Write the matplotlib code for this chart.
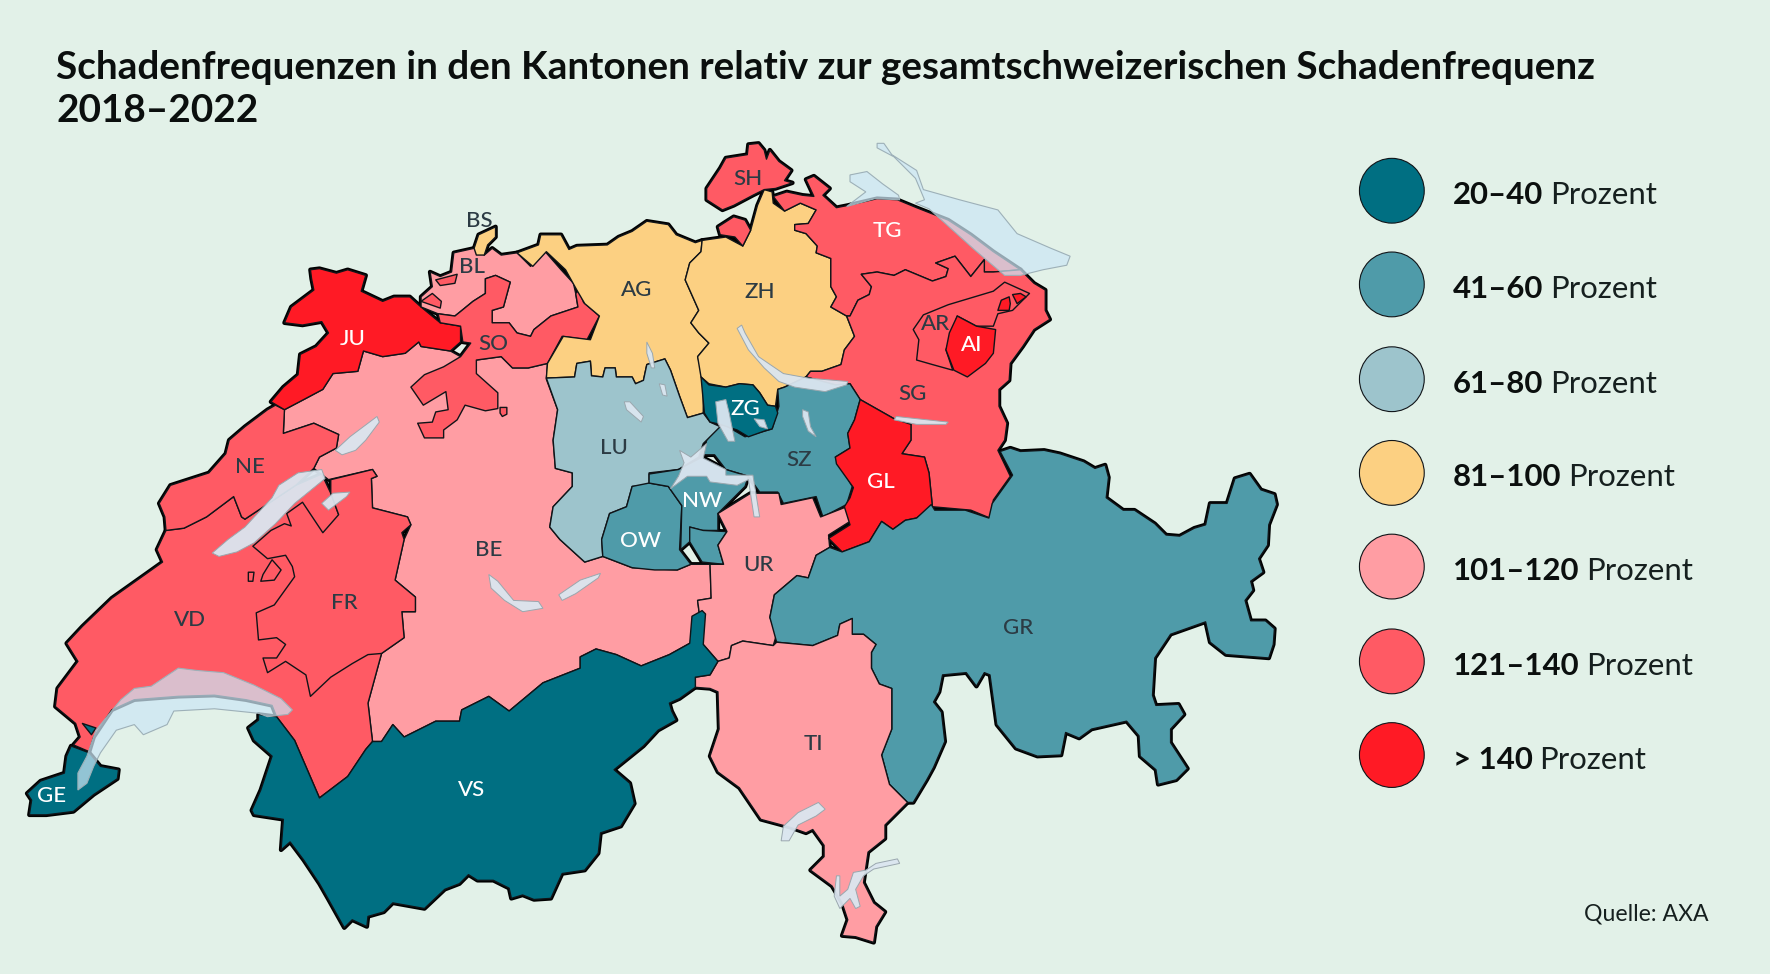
import matplotlib
matplotlib.use("Agg")
import matplotlib.pyplot as plt
from matplotlib.patches import Polygon, Circle

BG = "#e2f1e8"
CLASS_COLORS = ["#006f82", "#4f9ba9", "#9dc4cc", "#fcd082", "#ff9da3", "#ff5a64", "#ff1a25"]
CLASS_BOLD = ["20–40", "41–60", "61–80", "81–100", "101–120", "121–140", "> 140"]
TITLE = ["Schadenfrequenzen in den Kantonen relativ zur gesamtschweizerischen Schadenfrequenz", "2018–2022"]
SOURCE = "Quelle: AXA"

# canton outlines, in the map's projected units
BE = [(252,363),(271,353),(286,345),(295,331),(317,329),(322,311),(339,316),(359,313),(371,303),(373,307),(399,311),(408,316),(422,319),(444,316),(454,326),(468,326),(485,322),(484,336),(494,363),(490,390),(492,415),(507,419),(507,431),(490,449),(487,467),(496,478),(518,498),(534,493),(560,503),(600,505),(612,500),(629,500),(630,530),(618,532),(623,571),(611,570),(593,580),(568,590),(546,580),(528,575),(514,582),(514,592),(481,605),(451,630),(433,617),(409,629),(407,639),(386,639),(358,653),(348,642),(338,657),(330,657),(326,623),(338,579),(358,565),(356,542),(368,542),(368,529),(350,514),(358,478),(364,465),(361,458),(330,450),(329,424),(334,422),(330,416),(291,425),(278,415),(283,405),(298,397),(300,385),(278,375),(251,384)]
VD = [(147,470),(139,487),(144,498),(130,508),(99,530),(73,555),(59,570),(69,586),(51,610),(49,626),(67,641),(71,653),(65,660),(79,666),(83,653),(99,629),(119,620),(158,617),(190,616),(218,620),(241,625),(245,635),(261,656),(283,707),(308,688),(324,664),(330,657),(326,623),(338,579),(310,540),(310,470),(300,456),(293,437),(285,420),(262,430),(217,460),(214,458),(207,440),(183,458),(163,468)]
NE = [(252,363),(251,384),(278,375),(300,385),(298,397),(283,405),(278,415),(262,430),(217,460),(214,458),(207,440),(183,458),(163,468),(147,470),(146,458),(141,446),(151,430),(185,419),(200,402),(203,390),(217,378),(237,363),(244,359)]
FR = [(293,425),(330,416),(334,422),(329,424),(330,450),(361,458),(364,465),(356,472),(358,478),(350,514),(368,529),(368,542),(356,542),(358,565),(338,579),(326,580),(312,588),(293,600),(275,617),(271,598),(253,586),(237,596),(233,583),(245,583),(253,571),(245,565),(229,567),(227,543),(243,536),(261,511),(259,502),(253,492),(237,495),(224,484),(240,470),(252,464),(258,466),(254,455),(268,445),(286,472),(300,456),(293,437)]
FR_X1 = [(220,507),(225,507),(224,515),(220,515)]
FR_X2 = [(233,509),(241,496),(249,505),(243,514),(231,515)]
JU = [(275,239),(283,238),(298,242),(308,239),(324,244),(320,258),(339,267),(349,263),(363,263),(373,272),(390,286),(408,289),(408,303),(399,311),(373,307),(371,303),(359,313),(339,316),(322,311),(317,329),(295,331),(286,345),(271,353),(252,363),(240,356),(251,343),(264,332),(266,314),(280,307),(291,295),(285,285),(268,288),(252,286),(258,272),(278,257),(276,247)]
BL = [(373,263),(383,254),(381,241),(390,245),(400,241),(402,224),(420,220),(429,226),(436,220),(444,226),(458,224),(470,236),(483,223),(497,239),(508,251),(510,260),(512,272),(488,280),(473,292),(470,298),(458,295),(451,286),(436,286),(436,275),(446,272),(452,250),(439,244),(430,247),(430,260),(419,267),(408,276),(403,280),(388,278),(373,272)]
BS = [(420,220),(424,208),(439,201),(439,210),(432,217),(429,226),(422,226)]
SO = [(388,278),(403,280),(408,276),(419,267),(430,260),(430,247),(439,244),(452,250),(446,272),(436,275),(436,286),(451,286),(458,295),(470,298),(473,292),(488,280),(512,272),(510,260),(513,257),(517,268),(531,280),(520,301),(498,298),(485,322),(468,326),(454,326),(444,316),(422,319),(422,331),(441,348),(441,362),(430,364),(412,359),(405,372),(393,381),(393,388),(385,388),(376,388),(370,375),(383,374),(386,365),(397,363),(395,347),(375,359),(364,343),(376,332),(393,325),(408,316),(417,304),(410,303),(408,289),(390,286)]
SO_X1 = [(383,260),(391,267),(390,273),(373,267)]
SO_X2 = [(386,248),(405,243),(403,251),(390,253)]
SO_X3 = [(443,361),(449,361),(449,367),(445,369),(443,366)]
AG = [(458,224),(477,217),(479,208),(497,208),(504,221),(511,218),(538,217),(548,210),(560,205),(573,196),(592,199),(599,208),(616,215),(622,213),(621,223),(611,233),(607,248),(619,275),(612,286),(619,295),(628,304),(618,316),(623,334),(623,366),(609,370),(602,351),(594,328),(589,318),(573,323),(570,337),(563,340),(560,334),(546,334),(545,326),(536,326),(534,334),(524,333),(523,320),(511,322),(509,334),(484,335),(485,322),(499,298),(523,301),(531,280),(518,269),(511,257),(501,239),(484,223),(472,236)]
ZH = [(622,213),(643,210),(658,218),(665,204),(671,182),(677,168),(684,170),(685,180),(695,187),(709,180),(723,186),(716,198),(704,199),(704,204),(714,207),(724,218),(723,224),(736,229),(736,254),(741,263),(736,272),(750,280),(757,298),(748,310),(745,323),(728,329),(718,329),(714,334),(695,343),(689,345),(687,360),(680,359),(673,348),(667,341),(655,340),(643,343),(628,340),(621,334),(618,316),(628,304),(619,295),(612,286),(619,275),(607,248),(611,233),(621,223)]
SH = [(663,128),(672,127),(677,133),(679,141),(682,133),(690,143),(701,151),(695,160),(702,162),(687,167),(677,168),(667,173),(650,182),(640,186),(626,177),(626,167),(638,149),(643,140),(662,137)]
SH_X1 = [(636,201),(650,192),(660,195),(665,204),(658,218),(651,210),(638,208)]
TG = [(685,174),(697,170),(711,173),(721,174),(714,159),(721,156),(735,167),(729,173),(741,184),(751,182),(777,176),(795,177),(812,184),(840,195),(860,208),(880,223),(904,239),(880,241),(872,241),(872,230),(860,245),(846,227),(829,233),(840,238),(838,245),(826,249),(802,239),(792,244),(777,241),(763,243),(772,254),(770,261),(760,266),(753,280),(750,280),(736,272),(741,263),(736,254),(736,229),(723,224),(724,218),(714,207),(704,204),(704,199),(716,198),(723,186),(709,180),(695,187)]
SG = [(763,243),(777,241),(792,244),(802,239),(826,249),(838,245),(840,238),(829,233),(846,227),(860,245),(872,230),(872,241),(880,241),(904,239),(916,251),(926,257),(926,275),(930,283),(916,292),(906,307),(895,322),(894,337),(885,345),(885,360),(892,375),(890,390),(884,399),(895,422),(880,443),(877,459),(860,452),(826,449),(823,419),(819,405),(799,402),(807,390),(807,376),(792,371),(762,354),(753,340),(740,341),(714,334),(718,329),(728,329),(745,323),(748,310),(757,298),(750,280),(753,280),(760,266),(770,261),(772,254)]
AR = [(809,292),(818,279),(840,270),(880,258),(890,250),(912,260),(897,275),(884,278),(880,289),(865,289),(848,280),(838,310),(844,328),(826,323),(812,319),(814,301)]
AI = [(848,280),(865,289),(882,292),(880,313),(873,322),(857,334),(845,328),(838,310),(841,295)]
AI_X1 = [(884,275),(887,266),(894,263),(895,269),(894,275)]
AI_X2 = [(897,261),(904,260),(909,263),(901,269)]
GL = [(762,354),(792,371),(807,376),(807,390),(799,402),(819,405),(823,419),(826,449),(812,459),(802,461),(791,469),(781,462),(770,480),(746,489),(734,477),(753,465),(748,449),(753,441),(756,432),(741,411),(740,405),(753,397),(751,384),(757,372)]
SZ = [(695,343),(714,334),(740,341),(753,340),(762,354),(757,372),(751,384),(753,397),(740,405),(755,431),(750,447),(729,458),(723,440),(694,446),(689,436),(673,436),(663,422),(643,416),(633,403),(623,403),(626,390),(634,380),(641,376),(660,387),(684,380),(690,360),(689,345)]
ZG = [(621,334),(628,341),(643,343),(655,340),(667,341),(673,348),(680,359),(687,360),(689,366),(684,380),(677,382),(663,387),(653,381),(638,376),(629,374),(624,366)]
LU = [(484,335),(509,334),(511,322),(523,320),(524,333),(534,334),(536,326),(545,326),(546,334),(560,334),(563,340),(570,337),(573,323),(589,318),(594,328),(602,351),(609,370),(623,366),(629,374),(638,378),(623,393),(619,405),(601,416),(575,419),(575,430),(560,431),(555,449),(540,455),(533,478),(534,493),(518,498),(496,478),(487,467),(490,449),(507,431),(507,419),(492,415),(490,390),(494,363)]
OW = [(533,478),(540,455),(555,449),(560,431),(575,428),(592,431),(604,448),(602,487),(612,500),(600,505),(580,505),(560,503),(534,493)]
OW_X1 = [(611,467),(623,470),(644,471),(636,483),(641,500),(622,498),(611,480)]
NW = [(575,420),(601,416),(622,405),(643,416),(663,422),(660,431),(636,455),(636,470),(622,470),(611,467),(611,480),(603,487),(604,448),(592,431),(575,428)]
UR = [(636,455),(665,437),(690,437),(692,447),(720,441),(727,458),(750,449),(753,462),(734,474),(735,485),(723,492),(716,512),(706,510),(686,527),(682,547),(688,562),(685,572),(658,568),(648,572),(646,583),(636,586),(623,571),(618,532),(630,530),(629,500),(641,500),(636,483),(644,471)]
GR = [(886,400),(895,397),(904,400),(925,399),(939,402),(960,409),(970,415),(979,412),(982,423),(980,441),(995,452),(1005,452),(1023,464),(1033,474),(1045,475),(1058,468),(1068,465),(1072,446),(1087,446),(1094,424),(1107,420),(1117,434),(1129,438),(1131,447),(1124,465),(1123,483),(1115,495),(1119,507),(1108,515),(1110,523),(1103,532),(1108,550),(1121,550),(1129,557),(1128,571),(1124,583),(1086,580),(1072,569),(1068,551),(1037,562),(1023,583),(1021,616),(1024,625),(1044,624),(1049,633),(1037,646),(1037,658),(1052,681),(1042,691),(1026,695),(1024,682),(1010,670),(1009,652),(998,639),(967,646),(956,654),(944,649),(940,669),(919,670),(900,663),(883,642),(877,598),(872,596),(865,608),(856,596),(835,598),(832,613),(827,622),(834,631),(837,657),(827,680),(821,691),(809,711),(804,711),(788,695),(781,669),(790,646),(790,610),(779,606),(772,592),(772,578),(776,571),(765,562),(755,562),(755,548),(744,553),(742,563),(720,572),(688,569),(682,547),(686,527),(706,510),(716,512),(723,492),(735,485),(746,489),(770,480),(781,462),(791,469),(802,461),(812,459),(825,447),(828,452),(855,452),(876,459),(879,446),(897,421)]
TI = [(648,572),(658,568),(685,572),(688,569),(720,572),(742,563),(744,553),(755,548),(755,562),(765,562),(776,571),(772,578),(772,592),(779,606),(790,610),(790,646),(781,669),(788,695),(804,711),(784,731),(784,743),(769,755),(765,782),(774,800),(784,808),(776,821),(774,835),(758,830),(746,829),(751,815),(746,800),(737,785),(718,771),(730,759),(730,749),(720,735),(714,738),(700,733),(674,726),(655,698),(636,684),(629,670),(637,646),(636,613),(629,610),(616,609),(616,600),(629,598),(636,586),(646,583)]
VS = [(220,645),(229,638),(229,633),(245,635),(261,656),(283,707),(308,688),(324,664),(330,657),(338,657),(348,642),(358,653),(386,639),(407,639),(409,629),(433,617),(451,630),(481,605),(514,592),(514,582),(528,575),(546,580),(568,590),(593,580),(611,570),(613,546),(622,541),(625,544),(623,571),(636,586),(629,598),(616,600),(616,609),(602,619),(593,623),(595,630),(599,638),(583,647),(570,661),(544,682),(558,694),(562,712),(550,732),(532,738),(530,756),(518,771),(498,774),(488,796),(473,797),(463,793),(453,796),(451,787),(437,780),(423,780),(415,775),(407,783),(394,788),(376,805),(348,800),(340,808),(326,812),(325,821),(312,815),(305,822),(291,797),(283,783),(269,762),(257,746),(249,753),(251,726),(225,722),(223,718),(231,700),(241,670),(225,656)]
GE = [(63,661),(79,667),(89,679),(105,682),(104,690),(83,704),(65,719),(41,722),(26,722),(28,709),(24,703),(36,692),(57,685),(59,670)]
GE_X1 = [(73,641),(85,645),(81,651)]

CANTON_SHAPES = [BE, VD, NE, FR, FR_X1, FR_X2, JU, BL, BS, SO, SO_X1, SO_X2, SO_X3, AG, ZH, SH, SH_X1, TG, SG, AR, AI, AI_X1, AI_X2, SZ, LU, OW, NW, OW_X1, UR, GL, GR, TI, VS, ZG, GE, GE_X1]
CANTON_CLASS = [4, 5, 5, 5, 5, 5, 6, 4, 3, 5, 5, 5, 5, 3, 3, 5, 5, 5, 5, 5, 6, 6, 6, 1, 2, 1, 1, 1, 4, 6, 1, 4, 0, 0, 0, 0]

# lakes
BODENSEE = [(777,127),(783,127),(790,137),(812,151),(818,168),(850,177),(884,186),(901,207),(931,220),(948,227),(945,235),(924,239),(904,244),(890,244),(863,221),(823,185),(811,180),(819,177),(811,158),(792,139),(777,131)]
UNTERSEE = [(753,155),(768,152),(782,163),(796,173),(797,177),(775,176),(750,183),(767,170),(753,161)]
LEMAN = [(158,592),(174,594),(198,596),(225,607),(249,619),(259,629),(255,633),(237,635),(229,632),(190,628),(154,630),(148,642),(127,651),(119,642),(103,647),(89,667),(83,679),(77,694),(69,700),(69,685),(77,670),(85,647),(107,620),(119,610),(134,608)]
NEUCHATEL = [(264,419),(285,416),(288,424),(261,446),(244,464),(225,481),(210,489),(194,493),(188,490),(202,478),(217,467),(241,441),(247,430)]
BIEL = [(334,369),(336,374),(324,390),(315,399),(303,403),(297,399),(310,387)]
MURTEN = [(310,436),(307,440),(291,452),(285,446),(295,437)]
BRIENZ = [(532,508),(530,512),(510,526),(498,532),(495,527),(514,514)]
THUN = [(433,509),(441,515),(455,532),(477,533),(481,539),(463,542),(447,532),(435,521)]
ZUERICH = [(657,288),(660,295),(672,316),(694,331),(716,335),(751,338),(750,341),(731,347),(704,343),(690,338),(677,326),(663,310),(653,291)]
WALEN = [(794,369),(840,374),(838,376),(812,376),(792,372)]
HALLWIL = [(573,303),(578,313),(580,326),(577,326),(573,313)]
BALDEGG = [(584,340),(589,341),(591,351),(587,350)]
SEMPACH = [(553,356),(558,356),(570,369),(568,374),(555,363)]
ZUG = [(634,356),(643,354),(646,366),(651,391),(645,391),(636,375)]
AEGERI = [(668,371),(677,372),(680,380),(673,378)]
SIHL = [(711,363),(716,365),(718,378),(723,387),(716,382),(711,369)]
VIERWALD = [(602,399),(612,405),(626,393),(623,406),(643,416),(643,421),(667,421),(673,458),(668,458),(663,425),(653,430),(629,427),(626,422),(609,422),(594,433),(601,422),(606,410)]
MAGGIORE = [(725,711),(731,717),(723,723),(707,731),(699,745),(692,745),(694,732),(707,720)]
LUGANO = [(795,761),(797,765),(774,770),(765,776),(758,788),(762,803),(758,805),(753,796),(744,805),(739,794),(741,776),(744,776),(744,794),(751,788),(756,773),(767,771),(776,765)]
LAKES_OVER = [BODENSEE, UNTERSEE, LEMAN]
LAKES_IN = [NEUCHATEL, BIEL, MURTEN, BRIENZ, THUN, ZUERICH, WALEN, HALLWIL, BALDEGG, SEMPACH, ZUG, AEGERI, SIHL, VIERWALD, MAGGIORE, LUGANO]

LABELS = ["SH","BS","BL","JU","SO","AG","ZH","TG","AR","AI","SG","ZG","LU","SZ","NW","OW","GL","UR","NE","FR","BE","VD","GR","TI","VS","GE"]
LABEL_X = [663,425,418,312,437,564,673,786,829,861,808,660,544,708,622,567,780,672,221,305,433,168,902,721,418,46]
LABEL_Y = [157,194,235,298,303,255,257,203,285,304,347,360,395,406,442,477,425,499,412,532,485,547,554,657,698,703]
LABEL_WHITE = {"JU","TG","AI","ZG","NW","OW","GL","VS","GE"}

LEGEND_Y = [169, 252, 336, 419, 502, 586, 669]

FONT = "Lato"
fig = plt.figure(figsize=(17.7, 9.74), dpi=100, facecolor=BG)
ax = fig.add_axes([0, 0, 1, 1])
ax.set_xlim(0, 1568); ax.set_ylim(863, 0); ax.axis("off")

for shape in CANTON_SHAPES:
    ax.add_patch(Polygon(shape, closed=True, fc="black", ec="black", lw=3.2, joinstyle="round", zorder=1))
for shape, cls in zip(CANTON_SHAPES, CANTON_CLASS):
    ax.add_patch(Polygon(shape, closed=True, fc=CLASS_COLORS[cls], ec="#101418", lw=1.0, joinstyle="round", zorder=2))
for lake in LAKES_IN:
    ax.add_patch(Polygon(lake, closed=True, fc=(0.86, 0.90, 0.94, 0.95), ec="#9aa7ae", lw=0.7, zorder=3))
for lake in LAKES_OVER:
    ax.add_patch(Polygon(lake, closed=True, fc=(0.80, 0.90, 0.96, 0.72), ec="#9db0b8", lw=0.8, zorder=3))

for lab, x, y in zip(LABELS, LABEL_X, LABEL_Y):
    col = "white" if lab in LABEL_WHITE else "#2c3b44"
    ax.text(x, y + 2, lab, color=col, fontsize=16, family=FONT, fontweight="medium", ha="center", va="center", zorder=4)

for i, t in enumerate(TITLE):
    ax.text(50, 70 + 38.5 * i, t, fontsize=27.95, family=FONT, fontweight="bold", color="#0b0f0e", va="baseline", zorder=5)

fig.canvas.draw()
rend = fig.canvas.get_renderer()
inv = ax.transData.inverted()
for y, c, b in zip(LEGEND_Y, CLASS_COLORS, CLASS_BOLD):
    ax.add_patch(Circle((1233, y), 28.7, fc=c, ec="#101418", lw=0.8, zorder=4))
    t = ax.text(1287, y + 12, b, fontsize=22.4, family=FONT, fontweight="bold", color="#0b0f0e", va="baseline", zorder=5)
    x1 = inv.transform(t.get_window_extent(rend))[1, 0]
    ax.text(x1 + 6, y + 12, "Prozent", fontsize=22.4, family=FONT, color="#16201f", va="baseline", zorder=5)

ax.text(1514, 816, SOURCE, fontsize=16.6, family=FONT, color="#16201f", ha="right", va="baseline", zorder=5)
fig.savefig("out.png", dpi=100, facecolor=BG)
